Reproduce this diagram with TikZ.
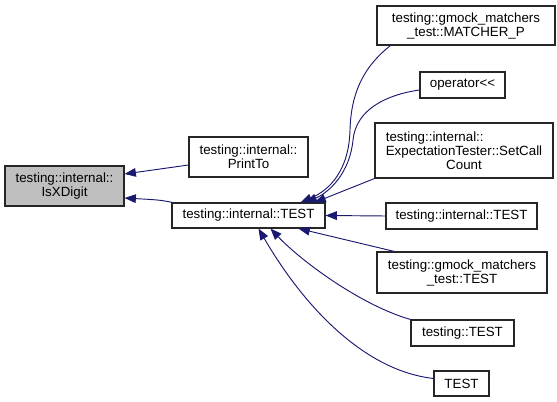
\documentclass[tikz,border=0pt]{standalone}
\usepackage{fontspec}
\setmainfont{Liberation Sans}
\usetikzlibrary{arrows.meta,calc}
\definecolor{edgeblue}{RGB}{25,25,112}

\begin{document}
\begin{tikzpicture}[x=0.75pt, y=-0.75pt,
    box/.style={draw=black!85, line width=0.8pt, fill=white, inner sep=0pt, align=center, font=\fontsize{10}{10.5}\selectfont},
    edge/.style={edgeblue, line width=0.7pt, -{Triangle[length=8.5pt,width=6.5pt]}}]

    \useasboundingbox (0,0) rectangle (557,402);

    % callee and direct callers
    \node[box, fill=black!25, minimum width=89.25pt, minimum height=30pt] (isx) at (64.5,186) {testing::internal::\\IsXDigit};
    \node[box, minimum width=89.25pt, minimum height=30pt] (printto) at (248.5,157) {testing::internal::\\PrintTo};
    \node[box, minimum width=114.75pt, minimum height=18.75pt] (itest) at (248.5,215.5) {testing::internal::TEST};

    % callers of testing::internal::TEST
    \node[box, minimum width=133.5pt, minimum height=29.25pt] (matcherp) at (466,25.5) {testing::gmock\_matchers\\\_test::MATCHER\_P};
    \node[box, minimum width=63.75pt, minimum height=19.5pt] (oper) at (462.5,85) {operator{<}{<}};
    \node[box, minimum width=133.5pt, minimum height=41.25pt] (setcall) at (464,150.5) {\rlap{testing::internal::}\phantom{ExpectationTester::SetCall}\\ExpectationTester::SetCall\\Count};
    \node[box, minimum width=113.25pt, minimum height=19.5pt] (itest2) at (461.5,216) {testing::internal::TEST};
    \node[box, minimum width=127.5pt, minimum height=30.75pt] (gtest) at (462,272.5) {testing::gmock\_matchers\\\_test::TEST};
    \node[box, minimum width=77.25pt, minimum height=19.5pt] (ttest) at (462.5,333) {testing::TEST};
    \node[box, minimum width=41.25pt, minimum height=18.75pt] (test) at (461.5,383.5) {TEST};

    % edges
    \draw[edge] ($(printto.west)+(0,8)$) -- ($(isx.east)+(0,-12)$);
    \draw[edge] ($(itest.north west)+(1,0)$) .. controls (160,200) .. ($(isx.east)+(0,12)$);

    \draw[edge] ($(matcherp.south west)+(14,0)$) .. controls (362,68) and (351,95) .. (350,130) .. controls (349,170) and (330,190) .. ($(itest.north)+(52,0)$);
    \draw[edge] ($(oper.west)+(0,5)$) .. controls (385,95) and (356,110) .. (353,140) .. controls (350,172) and (330,192) .. ($(itest.north)+(57,0)$);
    \draw[edge] (setcall.south west) -- ($(itest.north)+(66,0)$);
    \draw[edge] (itest2.west) -- (itest.east);
    \draw[edge] ($(gtest.north west)+(18,0)$) -- ($(itest.south)+(50,0)$);
    \draw[edge] (ttest.north west) .. controls (360,305) and (300,260) .. ($(itest.south)+(22,0)$);
    \draw[edge] ($(test.west)+(0,-5)$) .. controls (360,370) and (300,300) .. ($(itest.south)+(10,0)$);
\end{tikzpicture}
\end{document}
